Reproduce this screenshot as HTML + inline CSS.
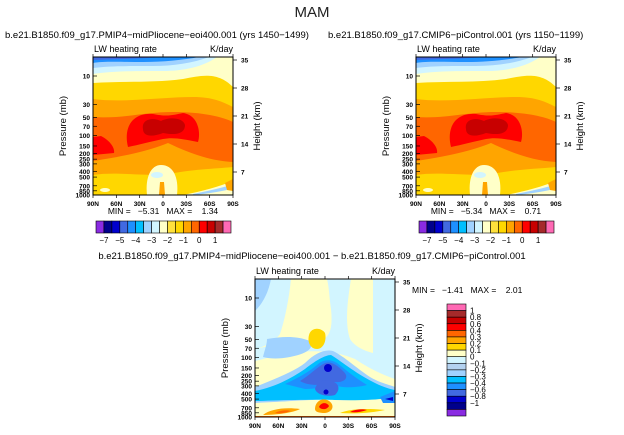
<!DOCTYPE html>
<html><head><meta charset="utf-8"><style>
body{margin:0;background:#fff;}
svg{display:block;font-family:"Liberation Sans",sans-serif;}
.pre{white-space:pre;}
</style></head><body>
<svg id="fig" width="624" height="435" viewBox="0 0 624 435" xmlns="http://www.w3.org/2000/svg">
<defs>
<clipPath id="cb"><rect x="0" y="0" width="140" height="138"/></clipPath>
<g id="absfield">
 <rect x="0" y="0" width="140" height="138" fill="#ffd700"/>
 <path d="M0,42 C30,46 70,40 100,40 C120,40 130,45 140,50 V110 C120,112 100,112 70,118 C40,118 20,115 0,118 Z" fill="#ffa500"/>
 <path d="M0,60 C30,62 50,55 80,55 C110,55 130,60 140,65 V105 C120,104 100,98 75,86 C60,92 40,98 0,104 Z" fill="#ff6600"/>
 <path d="M0,0 H140 V30 C125,15 110,18 90,22 C60,26 30,24 0,26 Z" fill="#ffffc8"/>
 <path d="M0,0 H124 C110,10 90,14 70,14 C40,14 20,14 0,17 Z" fill="#d2f5ff"/>
 <path d="M0,0 H116 C100,6 80,9 60,9 C30,9 15,9 0,11 Z" fill="#a0d2ff"/>
 <path d="M0,0 H106 C90,3 70,5 50,5 C30,5 10,4 0,6 Z" fill="#1e90ff"/>
 <path d="M0,0 H70 C45,2 20,2 0,3 Z" fill="#4169e1"/>
 <path d="M35,90 C30,70 40,55 60,57 C75,60 80,58 90,56 C105,58 108,75 105,85 C90,82 80,80 70,82 C60,84 45,88 35,90 Z" fill="#ff0000"/>
 <path d="M0,80 L8,79 C18,84 22,92 21,96 L0,98 Z" fill="#ff0000"/>
 <path d="M50,72 C48,62 60,60 68,64 C75,60 90,60 92,68 C92,78 80,78 70,76 C60,80 50,80 50,72 Z" fill="#c80000"/>
 <path d="M54,138 C52,120 58,108 68,108 C80,108 86,120 84,138 Z" fill="#ffffc8"/>
 <ellipse cx="64" cy="118" rx="6" ry="3" fill="#d2f5ff"/>
 <path d="M66,138 L67,125 L71,125 L72,138 Z" fill="#ffa500"/>
 <path d="M90,138 C110,134 125,130 140,124 V138 Z" fill="#ffffc8"/>
 <path d="M100,137 C115,134 128,131 138,128 L138,132 C125,135 112,137 100,138 Z" fill="#a0d2ff"/>
 <path d="M132,126 L140,122 V134 L134,133 Z" fill="#ffa500"/>
 <ellipse cx="12" cy="133" rx="5" ry="2" fill="#ffffc8"/>
</g>
</defs>
<g id="root"></g>
</svg>
<script>
const NS="http://www.w3.org/2000/svg";
const root=document.getElementById('root');
const pressTicks=[10,30,50,70,100,150,200,250,300,400,500,700,850,1000];
const heightTicks=[7,14,21,28,35];
const latTicks=["90N","60N","30N","0","30S","60S","90S"];
const absLevels=["-7","-5","-4","-3","-2","-1","0","1"];
const absColors=["#8a2be2","#00008b","#0000cd","#4169e1","#1e90ff","#00bfff","#a0d2ff","#d2f5ff","#ffffc8","#ffe13c","#ffd700","#ffa500","#ff6600","#ff0000","#c80000","#a52a2a","#ff69b4"];
const diffLevels=["1","0.8","0.6","0.4","0.3","0.2","0.1","0","-0.1","-0.2","-0.3","-0.4","-0.6","-0.8","-1"];
const diffColors=["#ff69b4","#a52a2a","#c80000","#ff0000","#ff6600","#ffa500","#ffd700","#ffffc8","#d2f5ff","#b4d2f0","#a0d2ff","#00bfff","#1e90ff","#4169e1","#0000cd","#00008b","#8a2be2"];
const W=140,H=138;
function py(p){return 19+59.5*(Math.log10(p)-1);}
function hy(h){return 3+(35-h)*4;}
function lx(i){return i*W/(latTicks.length-1);}
function el(tag,attrs,parent,txt){const e=document.createElementNS(NS,tag);for(const k in attrs)e.setAttribute(k,attrs[k]);if(txt!==undefined)e.textContent=txt;(parent||root).appendChild(e);return e;}
function axes(ox,oy,name){
  const g=el('g',{transform:`translate(${ox},${oy})`});
  
  
  el('rect',{x:0,y:0,width:W,height:H,fill:'none',stroke:'#000','stroke-width':1},g);
  pressTicks.forEach(p=>{const y=py(p);el('line',{x1:0,x2:4,y1:y,y2:y,stroke:'#000','stroke-width':0.7},g);
    const t=el('text',{x:-3,y:y+2.5,'font-size':6.5,'text-anchor':'end','font-weight':'bold'},g,String(p));
    });
  heightTicks.forEach(h=>{const y=hy(h);el('line',{x1:W,x2:W+4,y1:y,y2:y,stroke:'#000','stroke-width':0.7},g);
    const t=el('text',{x:W+8,y:y+2.5,'font-size':6.5,'font-weight':'bold'},g,String(h));
    });
  latTicks.forEach((l,i)=>{const x=lx(i);el('line',{x1:x,x2:x,y1:H,y2:H+3,stroke:'#000','stroke-width':0.7},g);el('line',{x1:x,x2:x,y1:0,y2:-3,stroke:'#000','stroke-width':0.7},g);
    const t=el('text',{x:x,y:H+11,'font-size':6.5,'text-anchor':'middle','font-weight':'bold'},g,l);
    });
  const a=el('text',{x:-27,y:H/2,'font-size':9.5,'text-anchor':'middle',transform:`rotate(-90 -27 ${H/2})`},g,'Pressure (mb)');
  
  const b=el('text',{x:W+27,y:H/2,'font-size':9.5,'text-anchor':'middle',transform:`rotate(-90 ${W+27} ${H/2})`},g,'Height (km)');
  
  const c=el('text',{x:1,y:-5,'font-size':9},g,'LW heating rate');
  
  const d=el('text',{x:W,y:-5,'font-size':9,'text-anchor':'end'},g,'K/day');
  
  return g;
}
function absPanel(ox,oy,name,title,minmax){
  const f=el('g',{transform:`translate(${ox},${oy})`,'clip-path':'url(#cb)'});
  
  el('use',{href:'#absfield'},f);
  axes(ox,oy,name+'-axes');
  const t=el('text',{x:ox-88,y:oy-19,'font-size':9.5},root,title);
  
  const m=el('text',{x:ox+70,y:oy+H+19,'font-size':8.5,'text-anchor':'middle','class':'pre'},root,minmax);
  
  const bw=135/absColors.length;
  absColors.forEach((c,i)=>{const r=el('rect',{x:ox+3+i*bw,y:oy+H+26,width:bw,height:12,fill:c,stroke:'#000','stroke-width':0.6});
    });
  absLevels.forEach((l,i)=>{const x=ox+3+(1+2*i)*bw;
    const t=el('text',{x:x,y:oy+H+48,'font-size':8,'text-anchor':'middle'},root,l.replace('-','\u2212'));
    });
}
const st=el('text',{x:312,y:17,'font-size':15,'text-anchor':'middle',fill:'#222'},root,'MAM');


absPanel(93,57,'midpliocene-panel','b.e21.B1850.f09_g17.PMIP4\u2212midPliocene\u2212eoi400.001  (yrs 1450\u22121499)','MIN =   \u22125.31   MAX =    1.34');
absPanel(416,57,'picontrol-panel','b.e21.B1850.f09_g17.CMIP6\u2212piControl.001  (yrs 1150\u22121199)','MIN =   \u22125.34   MAX =    0.71');
// diff panel
const dx=255,dy=279;
const df=el('g',{transform:`translate(${dx},${dy})`,'clip-path':'url(#cb)'});


const shapes=[
 ['rect',{x:0,y:0,width:140,height:138,fill:'#ffffc8'}],
 ['path',{d:'M0,0 H36 C34,20 30,40 25,55 C20,62 10,68 0,70 Z',fill:'#d2f5ff'}],
 ['path',{d:'M0,0 H16 C14,10 10,22 0,32 Z',fill:'#a0d2ff'}],
 ['path',{d:'M72,0 H96 C92,25 90,45 95,60 C100,68 110,72 118,74 L118,0 H140 V100 C125,95 112,88 100,80 C80,72 60,70 30,75 C20,76 10,80 0,82 V70 C20,66 40,60 60,62 C75,62 78,50 76,30 C74,15 74,8 72,0 Z',fill:'#d2f5ff'}],
 ['path',{d:'M12,60 C25,58 40,56 55,62 C60,70 50,75 35,78 C25,80 15,80 8,78 C10,70 12,65 12,60 Z',fill:'#a0d2ff'}],
 ['path',{d:'M54,56 C56,48 66,48 70,54 C72,62 68,70 62,70 C56,70 52,64 54,56 Z',fill:'#ffd700'}],
 ['path',{d:'M0,108 C20,100 40,92 50,84 C60,74 70,70 78,72 C90,78 100,88 115,98 C125,104 135,106 140,108 V125 C120,125 100,124 80,122 C60,122 30,122 0,124 Z',fill:'#a0d2ff'}],
 ['path',{d:'M0,112 C20,108 35,100 50,90 C60,82 70,76 76,76 C86,82 100,94 120,104 C128,108 135,110 140,111 V124 C110,122 80,120 40,121 C25,121 10,122 0,122 Z',fill:'#00bfff'}],
 ['path',{d:'M30,105 C45,98 55,92 62,86 C68,80 76,80 82,84 C92,92 102,100 112,106 C95,110 85,108 78,106 C70,108 60,110 50,110 Z',fill:'#1e90ff'}],
 ['path',{d:'M45,102 C55,96 62,88 70,84 C76,82 82,86 88,92 C95,98 90,104 80,103 C70,106 55,108 45,102 Z',fill:'#4169e1'}],
 ['path',{d:'M60,110 C62,102 70,100 76,102 C84,104 86,110 80,116 C72,118 62,116 60,110 Z',fill:'#4169e1'}],
 ['ellipse',{cx:73,cy:89,rx:4,ry:4,fill:'#0000cd'}],
 ['ellipse',{cx:71,cy:113,rx:2.5,ry:2.5,fill:'#0000cd'}],
 ['path',{d:'M0,125 C30,122 60,120 80,121 C110,122 130,120 140,118 V138 H0 Z',fill:'#ffffc8'}],
 ['path',{d:'M60,130 C60,122 68,118 74,122 C80,126 78,133 70,134 C64,134 60,133 60,130 Z',fill:'#ffa500'}],
 ['path',{d:'M64,128 C66,123 72,123 74,127 C72,131 66,131 64,128 Z',fill:'#ff0000'}],
 ['path',{d:'M8,136 C15,130 30,128 45,130 C38,134 20,136 8,136 Z',fill:'#ffa500'}],
 ['path',{d:'M20,134 C25,131 32,131 36,132 C30,134 25,135 20,134 Z',fill:'#ff6600'}],
 ['path',{d:'M85,134 C95,130 110,129 130,131 C115,134 100,135 85,134 Z',fill:'#ffd700'}],
 ['path',{d:'M95,133 C100,130 108,130 112,131 C106,133 100,134 95,133 Z',fill:'#ff0000'}],
 ['path',{d:'M0,137 H140 V138 H0 Z',fill:'#ff6600'}],
 ['path',{d:'M125,118 L140,112 V124 L128,124 Z',fill:'#1e90ff'}],
 ['path',{d:'M130,120 L138,118 L138,122 Z',fill:'#0000cd'}]
];
shapes.forEach(s=>{const e=el(s[0],s[1],df);});
axes(dx,dy,'difference-axes');
const dt=el('text',{x:312,y:dy-20,'font-size':9.5,'text-anchor':'middle'},root,'b.e21.B1850.f09_g17.PMIP4\u2212midPliocene\u2212eoi400.001  \u2212  b.e21.B1850.f09_g17.CMIP6\u2212piControl.001');


const dm=el('text',{x:412,y:293,'font-size':8.5,'class':'pre'},root,'MIN =   \u22121.41   MAX =    2.01');


const bh=112/diffColors.length;
diffColors.forEach((c,i)=>{const r=el('rect',{x:447,y:304+i*bh,width:19,height:bh,fill:c,stroke:'#000','stroke-width':0.6});
  });
diffLevels.forEach((l,i)=>{const y=304+(i+1)*bh;
  const t=el('text',{x:470,y:y+3,'font-size':8},root,l.replace('-','\u2212'));
  });
</script>
</body></html>
